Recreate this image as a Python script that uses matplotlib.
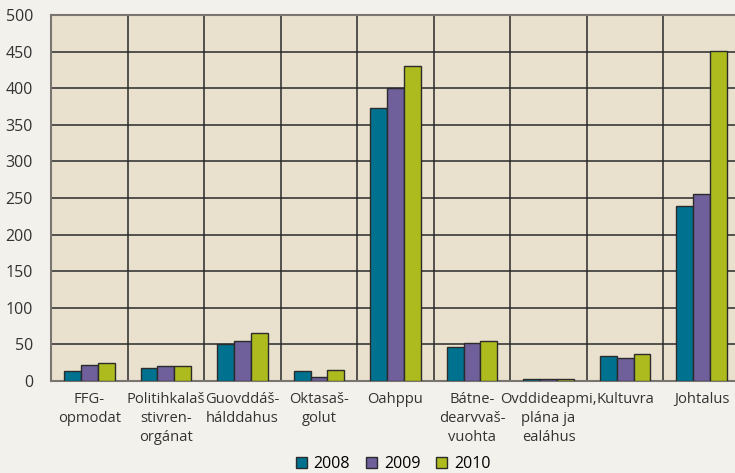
import numpy as np
import matplotlib
matplotlib.use("Agg")
import matplotlib.pyplot as plt

categories = ["FFG-\nopmodat", "Politihkalaš\nstivren-\norgánat", "Guovddáš-\nhálddahus",
              "Oktasaš-\ngolut", "Oahppu", "Bátne-\ndearvvaš-\nvuohta",
              "Ovddideapmi,\nplána ja\nealáhus", "Kultuvra", "Johtalus"]
years = ["2008", "2009", "2010"]
v2008 = [14, 18, 50, 14, 373, 46, 3, 34, 239]
v2009 = [22, 20, 55, 6, 400, 52, 3, 32, 255]
v2010 = [25, 20, 65, 15, 430, 54, 3, 37, 451]
yticks = [0, 50, 100, 150, 200, 250, 300, 350, 400, 450, 500]

colors = ["#00728f", "#6f5f9b", "#aebb1f"]

plt.rcParams['font.family'] = ['Open Sans', 'DejaVu Sans']

fig = plt.figure(figsize=(7.35, 4.73), dpi=100, facecolor="#f3f1ec")
ax = fig.add_axes([51/735, 1 - 381/473, 689/735, 366/473])
ax.set_facecolor("#e9e1cd")

x = np.arange(len(categories))
w = 0.22
for i, (vals, lab) in enumerate(zip([v2008, v2009, v2010], years)):
    ax.bar(x + (i - 1) * w, vals, width=w, color=colors[i], edgecolor="#2b2b2b",
           linewidth=1.0, label=lab, zorder=3)

ax.set_xlim(-0.5, len(categories) - 0.5)
ax.set_ylim(0, 500)
ax.set_yticks(yticks)
ax.set_xticks(x)
ax.set_xticklabels(categories, fontsize=10.6, color="#333333", linespacing=1.35)
ax.set_xticks(np.arange(len(categories) - 1) + 0.5, minor=True)
ax.tick_params(axis="both", which="both", length=0)
ax.tick_params(axis="y", labelsize=11.5, colors="#333333", pad=13)
ax.tick_params(axis="x", pad=8)
ax.grid(axis="y", color="#2a2a2a", linewidth=1.1, zorder=1)
ax.grid(axis="x", which="minor", color="#2a2a2a", linewidth=1.1, zorder=1)
for s in ["left", "top", "right", "bottom"]:
    ax.spines[s].set_color("#7a7570")
    ax.spines[s].set_linewidth(1.5)

fig.legend(loc="lower center", bbox_to_anchor=(0.535, -0.018), ncol=3, frameon=False,
           fontsize=11.5, handlelength=0.7, handleheight=0.7, handletextpad=0.4,
           columnspacing=1.0, borderaxespad=0.2)

fig.savefig("out.png", dpi=100, facecolor=fig.get_facecolor())
